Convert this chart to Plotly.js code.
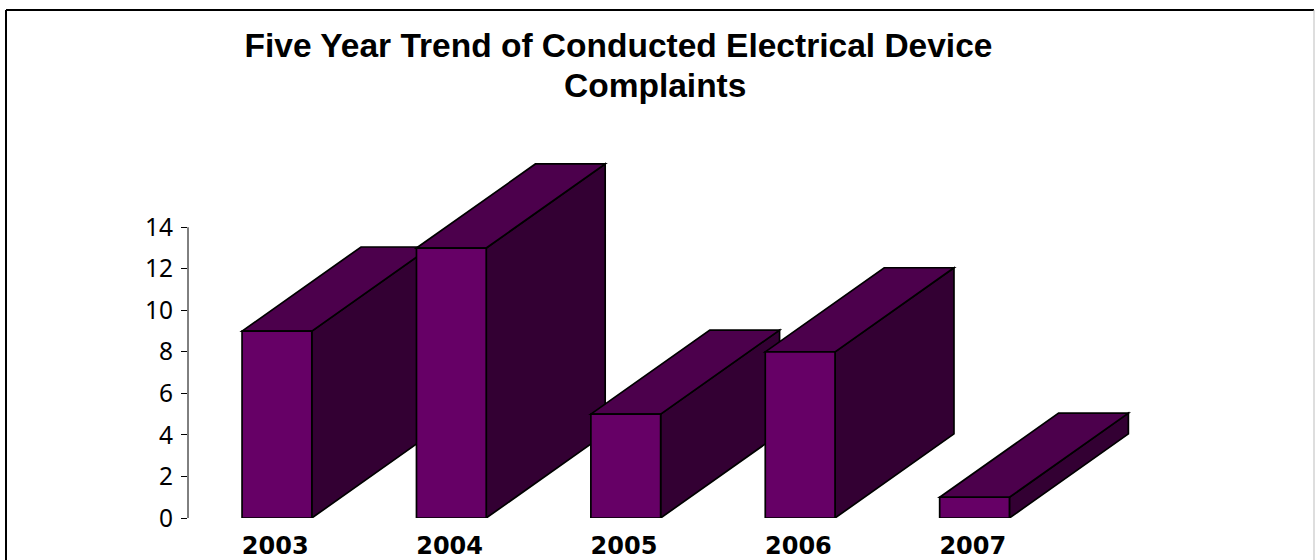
<!DOCTYPE html>
<html>
<head>
<meta charset="utf-8">
<script src="https://cdn.plot.ly/plotly-3.0.1.min.js"></script>
<style>html,body{margin:0;padding:0;background:#fff;overflow:hidden}#chart{width:1315px;height:560px}</style>
</head>
<body>
<div id="chart"></div>
<script>
// Complaint counts per year
const years = ['2003', '2004', '2005', '2006', '2007'];
const complaints = [9, 13, 5, 8, 1];
const yTicks = [0, 2, 4, 6, 8, 10, 12, 14];

// Box geometry, in axis units
const barWidth = 0.4;
const barShift = 0.01;
const depthX = 0.682;
const depthY = 4.05;

const FRONT = '#660066';
const TOP = '#4c004c';
const SIDE = '#330033';

const positions = years.map((_, i) => i);
const poly = pts => 'M' + pts.map(p => p[0] + ',' + p[1]).join('L') + 'Z';
const edge = { color: '#000', width: 1.7 };

// Each year's receding faces, painted left to right beneath the front faces
const faces = [];
complaints.forEach((v, i) => {
  const l = i - barWidth / 2 + barShift;
  const r = i + barWidth / 2 + barShift;
  faces.push({
    type: 'path', layer: 'below', xref: 'x', yref: 'y', fillcolor: SIDE, line: edge,
    path: poly([[r, 0], [r + depthX, depthY], [r + depthX, v + depthY], [r, v]])
  });
  faces.push({
    type: 'path', layer: 'below', xref: 'x', yref: 'y', fillcolor: TOP, line: edge,
    path: poly([[l, v], [l + depthX, v + depthY], [r + depthX, v + depthY], [r, v]])
  });
});

const frontFaces = {
  type: 'bar',
  x: positions,
  y: complaints,
  width: barWidth,
  offset: -barWidth / 2 + barShift,
  marker: { color: FRONT, line: edge },
  hoverinfo: 'x+y'
};

// The value axis line stops at the top tick, below the tops of the tallest boxes
const valueAxisLine = {
  type: 'line', xref: 'paper', yref: 'y', x0: 0, x1: 0, y0: 0, y1: 14,
  line: { color: '#000', width: 1 }
};

const W = 1315, H = 560;
const margin = { l: 188, r: 180, t: 160, b: 42 };
const plotW = W - margin.l - margin.r;
const plotH = H - margin.t - margin.b;
const paperX = px => (px - margin.l) / plotW;
const paperY = py => (H - margin.b - py) / plotH;

// Page frame: open at the bottom, with a faint right edge
const frameLine = (x0, y0, x1, y1, color, width) => ({
  type: 'line', xref: 'paper', yref: 'paper',
  x0: paperX(x0), y0: paperY(y0), x1: paperX(x1), y1: paperY(y1),
  line: { color, width }
});
const frame = [
  frameLine(6, 10, 1314, 10, '#000', 2),
  frameLine(6, 10, 6, 570, '#000', 2),
  frameLine(1314, 10, 1314, 570, '#bdbdbd', 1)
];

const titleFont = { family: '"Liberation Sans", Arial, sans-serif', size: 33.5, color: '#000', weight: 700 };

const layout = {
  width: W,
  height: H,
  margin,
  paper_bgcolor: '#fff',
  plot_bgcolor: '#fff',
  showlegend: false,
  bargap: 0,
  title: {
    text: 'Five Year Trend of Conducted Electrical Device',
    font: titleFont,
    x: 618.5 / W, xref: 'container', xanchor: 'center',
    y: 1 - 34 / H, yref: 'container', yanchor: 'top'
  },
  // The title's second line sits off-centre and closer than the default line height
  annotations: [{
    text: 'Complaints',
    font: titleFont,
    showarrow: false,
    xref: 'paper', yref: 'paper',
    x: paperX(655), xanchor: 'center',
    y: paperY(106), yanchor: 'bottom'
  }],
  xaxis: {
    range: [-0.5, 4.93],
    tickmode: 'array',
    tickvals: positions,
    ticktext: years,
    ticks: '',
    ticklabelstandoff: 11,
    showline: false,
    showgrid: false,
    zeroline: false,
    tickfont: { family: '"DejaVu Sans", sans-serif', size: 24, color: '#000', weight: 700 }
  },
  yaxis: {
    range: [0, 17.24],
    tickmode: 'array',
    tickvals: yTicks,
    ticks: 'outside',
    ticklen: 6,
    tickcolor: '#000',
    tickwidth: 1,
    ticklabelstandoff: 3,
    showline: false,
    showgrid: false,
    zeroline: false,
    tickfont: { family: '"Noto Sans", sans-serif', size: 24.5, color: '#000' }
  },
  shapes: faces.concat([valueAxisLine], frame)
};

Plotly.newPlot('chart', [frontFaces], layout, { displayModeBar: false, staticPlot: true });
</script>
</body>
</html>
